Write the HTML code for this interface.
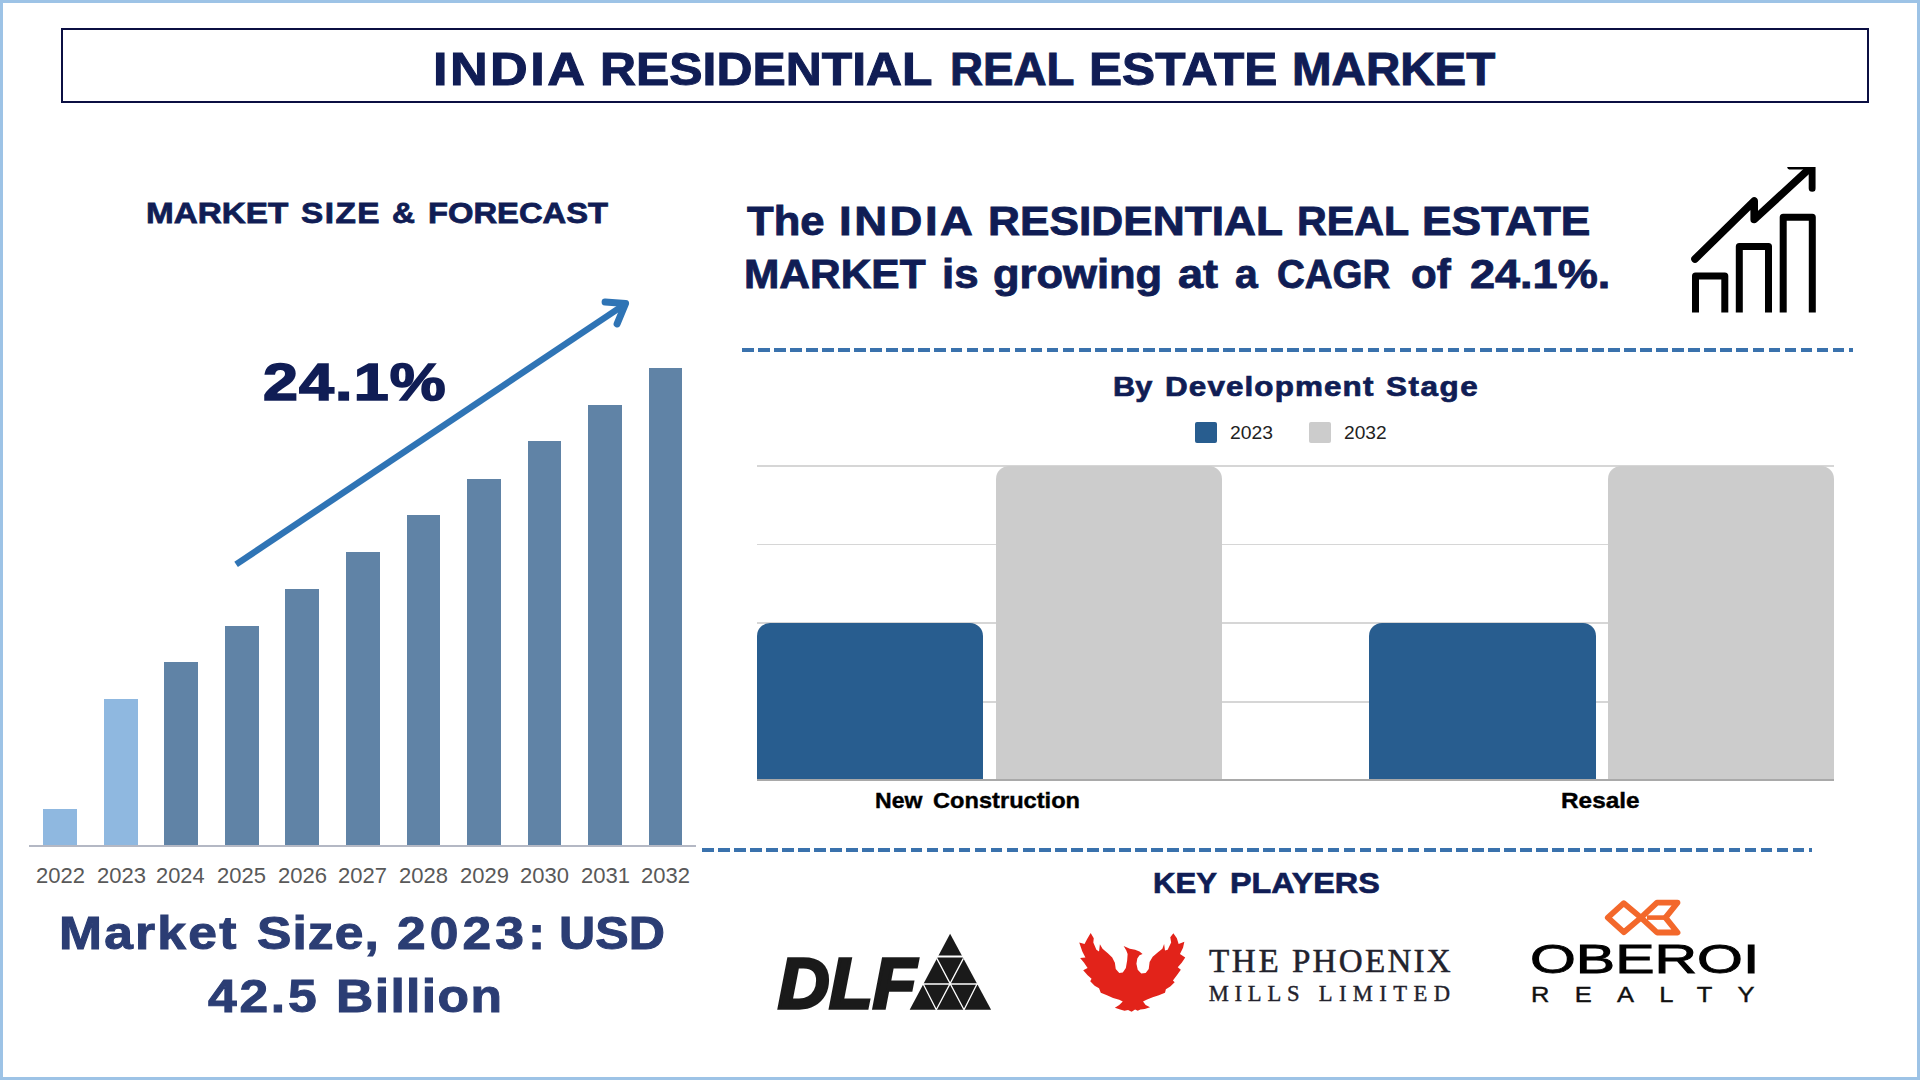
<!DOCTYPE html>
<html lang="en">
<head>
<meta charset="utf-8">
<title>India Residential Real Estate Market</title>
<style>
html,body{margin:0;padding:0;background:#fff;}
body{width:1920px;height:1080px;position:relative;overflow:hidden;font-family:"Liberation Sans",sans-serif;}
.frame{position:absolute;left:0;top:0;width:1914px;height:1074px;border:3px solid #9dc3e6;}
.titlebox{position:absolute;left:61px;top:28px;width:1804px;height:71px;border:2px solid #0b0f42;}
.t{position:absolute;left:0;white-space:nowrap;margin:0;}
.t span{position:absolute;top:0;left:0;display:block;transform-origin:0 0;}
.bar{position:absolute;}
.axis{position:absolute;left:29px;top:844.5px;width:667px;height:2.5px;background:#b4b8c4;}
.dash{position:absolute;height:4px;background:repeating-linear-gradient(90deg,#3a72ad 0 11.7px,transparent 11.7px 16.04px);}
.grid{position:absolute;left:757px;width:1077px;height:1.6px;background:#d6d6d6;}
.base2{position:absolute;left:757px;top:779px;width:1077px;height:1.8px;background:#a9a9a9;}
.rb{position:absolute;border-radius:13px 13px 0 0;}
.lg{position:absolute;width:21.5px;height:21px;border-radius:2px;}
svg{position:absolute;overflow:visible;}
</style>
</head>
<body>
<div class="frame"></div>
<header class="titlebox"></header>

<!-- left chart -->
<section>
<div class="bar" style="left:43.2px;top:809.0px;width:33.8px;height:36.0px;background:#8fb8e0"></div>
<div class="bar" style="left:103.8px;top:699.0px;width:33.8px;height:146.0px;background:#8fb8e0"></div>
<div class="bar" style="left:164.3px;top:662.0px;width:33.8px;height:183.0px;background:#6083a6"></div>
<div class="bar" style="left:224.8px;top:626.0px;width:33.8px;height:219.0px;background:#6083a6"></div>
<div class="bar" style="left:285.4px;top:589.0px;width:33.8px;height:256.0px;background:#6083a6"></div>
<div class="bar" style="left:345.9px;top:552.0px;width:33.8px;height:293.0px;background:#6083a6"></div>
<div class="bar" style="left:406.5px;top:515.0px;width:33.8px;height:330.0px;background:#6083a6"></div>
<div class="bar" style="left:467.0px;top:478.5px;width:33.8px;height:366.5px;background:#6083a6"></div>
<div class="bar" style="left:527.6px;top:441.0px;width:33.8px;height:404.0px;background:#6083a6"></div>
<div class="bar" style="left:588.1px;top:405.0px;width:33.8px;height:440.0px;background:#6083a6"></div>
<div class="bar" style="left:648.7px;top:368.0px;width:33.8px;height:477.0px;background:#6083a6"></div>
<div class="axis"></div>
<svg width="1920" height="1080" style="left:0;top:0" viewBox="0 0 1920 1080">
  <g fill="none" stroke="#2f74b5" stroke-width="6.4">
    <line x1="236.1" y1="564.4" x2="623.6" y2="305.1"/>
    <polyline points="605.1,301.9 625.6,303.4 617.1,323.9" stroke-linecap="round" stroke-linejoin="round" stroke-width="7"/>
  </g>
</svg>
</section>

<!-- right chart -->
<section>
<div class="dash" style="left:742px;top:348px;width:1110.5px"></div>
<div class="grid" style="top:465.0px"></div>
<div class="grid" style="top:543.7px"></div>
<div class="grid" style="top:622.4px"></div>
<div class="grid" style="top:701.0px"></div>
<div class="rb" style="left:757.4px;top:622.8px;width:226px;height:157px;background:#285d8f"></div>
<div class="rb" style="left:996px;top:465.7px;width:226px;height:314px;background:#cccccc"></div>
<div class="rb" style="left:1369.3px;top:622.8px;width:226.5px;height:157px;background:#285d8f"></div>
<div class="rb" style="left:1608px;top:465.7px;width:226px;height:314px;background:#cccccc"></div>
<div class="base2"></div>
<div class="lg" style="left:1195.4px;top:421.8px;background:#285d8f"></div>
<div class="lg" style="left:1309px;top:421.8px;background:#cccccc"></div>
<div class="dash" style="left:702px;top:848.3px;width:1110px"></div>
</section>

<!-- growth icon -->
<svg width="1920" height="1080" style="left:0;top:0" viewBox="0 0 1920 1080">
  <defs><clipPath id="iconclip"><rect x="1680" y="167.1" width="135.8" height="160"/></clipPath></defs>
  <g fill="none" stroke="#000" stroke-width="7" stroke-linejoin="round">
    <path d="M1695.5 312.5V276H1724.8V312.5"/>
    <path d="M1739.3 312.5V246.5H1768.5V312.5"/>
    <path d="M1783.2 312.5V217.3H1812.3V312.5"/>
  </g>
  <g fill="none" stroke="#000" clip-path="url(#iconclip)">
    <path d="M1695 259L1754.2 201V219.5L1809 169" stroke-width="7.6" stroke-linecap="round" stroke-linejoin="round"/>
    <path d="M1790.6 166.1H1812.2V188.3" stroke-width="7" stroke-linecap="round" stroke-linejoin="miter"/>
  </g>
</svg>

<!-- logos -->
<svg width="1920" height="1080" style="left:0;top:0" viewBox="0 0 1920 1080">
  <!-- DLF pyramid -->
  <g>
    <path d="M950.1 933.7L991.1 1009.8H909.7Z" fill="#1a1a1a"/>
    <g stroke="#fff" stroke-width="1.3" fill="none">
      <path d="M936 956.5H964.5" stroke-width="2"/>
      <path d="M922 984H978.5"/>
      <path d="M936.8 958.4L964 1009.8M963.4 958.4L936.3 1009.8M923.2 984L936.3 1009.8M977 984L964 1009.8"/>
    </g>
  </g>
  <!-- Oberoi mark -->
  <g fill="none" stroke="#f3682b" stroke-width="5.8" stroke-linejoin="round">
    <path d="M1607.8 917.6L1623.8 903.2L1641 917.6L1623.8 932.2Z"/>
    <path d="M1641 917.6L1657 902.7H1677.5L1665.5 917.6L1677.5 932.5H1657Z"/>
    <path d="M1647 917.6H1665.5" stroke-width="4.6"/>
  </g>
</svg>
<!-- Phoenix bird -->
<svg width="125" height="95" style="left:1070px;top:925px" viewBox="0 0 1421 1080">
  <path fill="#e2231a" d="M235 90L270 150L265 200L300 280L330 300L340 220L370 270L430 320L480 370L510 430L520 500L560 545L600 540L635 490L650 400L655 330L640 290L610 240L680 270L740 280L790 300L825 330L790 345L765 380L755 440L770 510L810 550L860 545L895 500L905 420L940 360L1000 310L1050 270L1070 215L1080 290L1110 280L1150 200L1140 140L1175 95L1215 150L1235 215L1300 190L1285 260L1250 330L1310 370L1270 430L1225 480L1260 510L1215 570L1170 630L1190 650L1140 700L1090 730L1080 770L1010 800L940 820L870 850L830 870L860 910L910 935L850 955L800 960L770 975L740 960L700 985L660 965L620 975L570 960L510 940L560 910L600 870L560 850L490 830L420 800L350 770L330 720L280 690L230 640L245 610L200 570L150 515L200 490L160 430L115 375L175 370L140 300L105 200L165 215L195 160Z"/>
</svg>

<!-- texts -->
<h1 class="t" style='top:46.14px;font:normal bold 46.62px/1 "Liberation Sans", sans-serif;color:#101d55;-webkit-text-stroke:1.0px #101d55;'><span style="left:432.64px;letter-spacing:2.195px;transform:scaleX(1.1200)">INDIA</span> <span style="left:600.43px;transform:scaleX(1.0703)">RESIDENTIAL</span> <span style="left:949.56px;transform:scaleX(0.9812)">REAL</span> <span style="left:1088.93px;transform:scaleX(1.0640)">ESTATE</span> <span style="left:1292.40px;transform:scaleX(1.0198)">MARKET</span></h1>
<h2 class="t" style='top:198.29px;font:normal bold 29.78px/1 "Liberation Sans", sans-serif;color:#101d55;-webkit-text-stroke:0.8px #101d55;'><span style="left:145.62px;transform:scaleX(1.1169)">MARKET</span> <span style="left:300.61px;letter-spacing:1.340px;transform:scaleX(1.1200)">SIZE</span> <span style="left:392.35px;transform:scaleX(1.0673)">&amp;</span> <span style="left:427.55px;transform:scaleX(1.0994)">FORECAST</span></h2>
<div class="t" style='top:356.17px;font:normal bold 52.37px/1 "Liberation Sans", sans-serif;color:#101d55;-webkit-text-stroke:1.6px #101d55;'><span style="left:263.32px;letter-spacing:0.917px;transform:scaleX(1.2000)">24.1%</span></div>
<div class="t" style='top:910.43px;font:normal bold 46.04px/1 "Liberation Sans", sans-serif;color:#2b3d74;-webkit-text-stroke:1.0px #2b3d74;'><span style="left:59.37px;letter-spacing:1.988px;transform:scaleX(1.1200)">Market</span> <span style="left:256.68px;letter-spacing:0.946px;transform:scaleX(1.1200)">Size,</span> <span style="left:396.80px;letter-spacing:3.614px;transform:scaleX(1.1200)">2023:</span> <span style="left:558.53px;transform:scaleX(1.0892)">USD</span></div>
<div class="t" style='top:972.83px;font:normal bold 46.04px/1 "Liberation Sans", sans-serif;color:#2b3d74;-webkit-text-stroke:1.0px #2b3d74;'><span style="left:207.52px;letter-spacing:2.468px;transform:scaleX(1.1200)">42.5</span> <span style="left:335.84px;letter-spacing:1.259px;transform:scaleX(1.1200)">Billion</span></div>
<div class="t" style='top:200.50px;font:normal bold 40.58px/1 "Liberation Sans", sans-serif;color:#101d55;-webkit-text-stroke:0.9px #101d55;'><span style="left:746.70px;transform:scaleX(1.0747)">The</span> <span style="left:839.34px;letter-spacing:2.283px;transform:scaleX(1.1200)">INDIA</span> <span style="left:988.14px;transform:scaleX(1.0902)">RESIDENTIAL</span> <span style="left:1296.85px;transform:scaleX(1.0161)">REAL</span> <span style="left:1421.79px;transform:scaleX(1.0935)">ESTATE</span></div>
<div class="t" style='top:253.80px;font:normal bold 40.58px/1 "Liberation Sans", sans-serif;color:#101d55;-webkit-text-stroke:0.9px #101d55;'><span style="left:744.15px;transform:scaleX(1.0463)">MARKET</span> <span style="left:942.25px;transform:scaleX(1.0791)">is</span> <span style="left:993.16px;transform:scaleX(1.0722)">growing</span> <span style="left:1178.39px;transform:scaleX(1.1073)">at</span> <span style="left:1235.34px;transform:scaleX(1.0061)">a</span> <span style="left:1277.40px;transform:scaleX(0.9488)">CAGR</span> <span style="left:1410.70px;transform:scaleX(1.0365)">of</span> <span style="left:1469.55px;transform:scaleX(1.1101)">24.1%.</span></div>
<h3 class="t" style='top:372.51px;font:normal bold 27.34px/1 "Liberation Sans", sans-serif;color:#101d55;-webkit-text-stroke:0.7px #101d55;'><span style="left:1112.79px;transform:scaleX(1.1249)">By</span> <span style="left:1164.74px;letter-spacing:0.958px;transform:scaleX(1.1500)">Development</span> <span style="left:1385.68px;letter-spacing:1.361px;transform:scaleX(1.1500)">Stage</span></h3>
<div class="t" style='top:424.94px;font:normal normal 17.55px/1 "Liberation Sans", sans-serif;color:#222;'><span style="left:1229.54px;transform:scaleX(1.1027)">2023</span></div>
<div class="t" style='top:424.94px;font:normal normal 17.55px/1 "Liberation Sans", sans-serif;color:#222;'><span style="left:1343.54px;transform:scaleX(1.0910)">2032</span></div>
<div class="t" style='top:789.74px;font:normal bold 22.16px/1 "Liberation Sans", sans-serif;color:#000;-webkit-text-stroke:0.4px #000;'><span style="left:874.84px;transform:scaleX(1.0406)">New</span> <span style="left:932.52px;transform:scaleX(1.0665)">Construction</span></div>
<div class="t" style='top:789.74px;font:normal bold 22.16px/1 "Liberation Sans", sans-serif;color:#000;-webkit-text-stroke:0.4px #000;'><span style="left:1560.95px;transform:scaleX(1.0992)">Resale</span></div>
<h2 class="t" style='top:867.55px;font:normal bold 30.36px/1 "Liberation Sans", sans-serif;color:#101d55;-webkit-text-stroke:0.7px #101d55;'><span style="left:1153.46px;transform:scaleX(1.0233)">KEY</span> <span style="left:1229.89px;transform:scaleX(1.0652)">PLAYERS</span></h2>
<div class="t" style='top:948.65px;font:italic bold 70.94px/1 "Liberation Sans", sans-serif;color:#1a1a1a;-webkit-text-stroke:3.4px #1a1a1a;'><span style="left:777.86px;transform:scaleX(1.0027)">DLF</span></div>
<div class="t" style='top:944.40px;font:normal normal 33.13px/1 "Liberation Serif", serif;color:#22222c;-webkit-text-stroke:0.5px #22222c;'><span style="left:1208.88px;letter-spacing:2.677px;transform:scaleX(1.0000)">THE</span> <span style="left:1291.96px;letter-spacing:2.240px;transform:scaleX(1.0000)">PHOENIX</span></div>
<div class="t" style='top:983.07px;font:normal normal 22.6px/1 "Liberation Serif", serif;color:#22222c;-webkit-text-stroke:0.4px #22222c;'><span style="left:1208.70px;letter-spacing:5.779px;transform:scaleX(1.0000)">MILLS</span> <span style="left:1318.70px;letter-spacing:6.400px;transform:scaleX(1.0000)">LIMITED</span></div>
<div class="t" style='top:938.93px;font:normal normal 40.43px/1 "Liberation Sans", sans-serif;color:#000;-webkit-text-stroke:0.9px #000;'><span style="left:1530.30px;transform:scaleX(1.4586)">OBEROI</span></div>
<div class="t" style='top:983.54px;font:normal normal 22.16px/1 "Liberation Sans", sans-serif;color:#111;-webkit-text-stroke:0.4px #111;'><span style="left:1530.62px;letter-spacing:21.966px;transform:scaleX(1.1500)">REALTY</span></div>
<div class="t" style='top:864.84px;font:normal normal 22.16px/1 "Liberation Sans", sans-serif;color:#595959;'><span style="left:35.95px;transform:scaleX(0.9932)">2022</span></div>
<div class="t" style='top:864.84px;font:normal normal 22.16px/1 "Liberation Sans", sans-serif;color:#595959;'><span style="left:96.60px;transform:scaleX(0.9942)">2023</span></div>
<div class="t" style='top:864.84px;font:normal normal 22.16px/1 "Liberation Sans", sans-serif;color:#595959;'><span style="left:156.34px;transform:scaleX(0.9851)">2024</span></div>
<div class="t" style='top:864.84px;font:normal normal 22.16px/1 "Liberation Sans", sans-serif;color:#595959;'><span style="left:216.98px;transform:scaleX(0.9936)">2025</span></div>
<div class="t" style='top:864.84px;font:normal normal 22.16px/1 "Liberation Sans", sans-serif;color:#595959;'><span style="left:277.61px;transform:scaleX(0.9949)">2026</span></div>
<div class="t" style='top:864.84px;font:normal normal 22.16px/1 "Liberation Sans", sans-serif;color:#595959;'><span style="left:338.26px;transform:scaleX(0.9932)">2027</span></div>
<div class="t" style='top:864.84px;font:normal normal 22.16px/1 "Liberation Sans", sans-serif;color:#595959;'><span style="left:398.89px;transform:scaleX(0.9942)">2028</span></div>
<div class="t" style='top:864.84px;font:normal normal 22.16px/1 "Liberation Sans", sans-serif;color:#595959;'><span style="left:459.54px;transform:scaleX(0.9926)">2029</span></div>
<div class="t" style='top:864.84px;font:normal normal 22.16px/1 "Liberation Sans", sans-serif;color:#595959;'><span style="left:520.18px;transform:scaleX(0.9924)">2030</span></div>
<div class="t" style='top:864.84px;font:normal normal 22.16px/1 "Liberation Sans", sans-serif;color:#595959;'><span style="left:580.81px;transform:scaleX(0.9961)">2031</span></div>
<div class="t" style='top:864.84px;font:normal normal 22.16px/1 "Liberation Sans", sans-serif;color:#595959;'><span style="left:641.45px;transform:scaleX(0.9932)">2032</span></div>
</body>
</html>
